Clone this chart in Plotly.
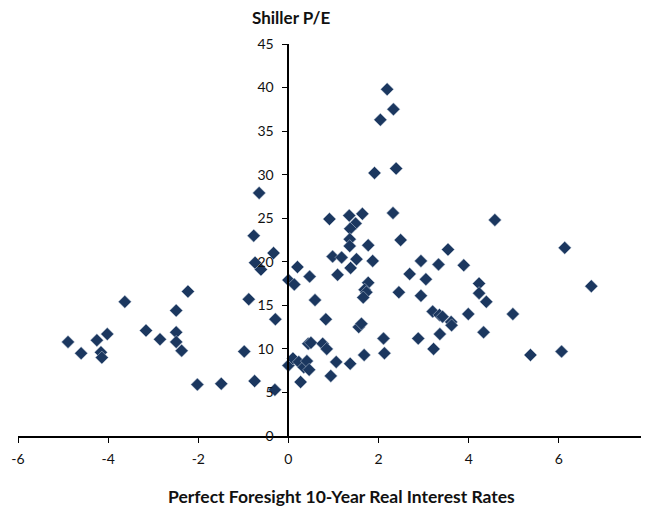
import plotly.graph_objects as go

# perfect foresight 10y real rate (x) vs Shiller P/E (y)
real_rate = [
    -4.89, -4.60, -4.25, -4.16, -4.14, -4.02, -3.63, -3.16, -2.85, -2.49,
    -2.49, -2.49, -2.37, -2.23, -2.02, -1.49, -0.98, -0.88, -0.75, -0.29,
    -0.30, -0.77, -0.65, -0.33, -0.74, -0.61,
    0.00, 0.13, 0.00, 0.10, 0.23, 0.34, 0.41, 0.46, 0.27, 0.20,
    0.47, 0.59, 0.44, 0.50, 0.76, 0.85, 0.83, 0.94, 1.06, 1.37,
    1.68, 1.56, 1.62,
    0.91, 0.98, 1.18, 1.09, 1.35, 1.49, 1.37, 1.36, 1.36, 1.38,
    1.51, 1.64, 1.77, 1.77, 1.69, 1.73, 1.66, 1.87, 1.91, 2.04,
    2.19, 2.33, 2.39, 2.32, 2.49, 2.45, 2.11, 2.13,
    2.69, 2.94, 2.94, 3.05, 2.88, 3.22, 3.20, 3.35, 3.42, 3.61,
    3.62, 3.36, 3.33, 3.54, 3.89, 3.99, 4.23, 4.23, 4.39, 4.33,
    4.58, 4.98, 5.37, 6.06, 6.13, 6.72,
]
shiller_pe = [
    10.8, 9.5, 11.0, 9.6, 9.0, 11.7, 15.4, 12.1, 11.1, 14.4,
    11.9, 10.8, 9.8, 16.6, 5.9, 6.0, 9.7, 15.7, 6.3, 13.4,
    5.3, 23.0, 27.9, 21.0, 19.9, 19.1,
    17.9, 17.4, 8.1, 8.9, 8.5, 7.9, 8.6, 7.6, 6.2, 19.4,
    18.3, 15.6, 10.6, 10.7, 10.6, 10.0, 13.4, 6.9, 8.5, 8.3,
    9.3, 12.5, 12.9,
    24.9, 20.6, 20.5, 18.5, 25.3, 24.4, 23.8, 22.6, 21.8, 19.3,
    20.3, 25.5, 21.9, 17.6, 16.8, 16.5, 15.9, 20.1, 30.2, 36.3,
    39.8, 37.5, 30.7, 25.6, 22.5, 16.5, 11.2, 9.5,
    18.6, 20.1, 16.1, 18.0, 11.2, 10.0, 14.3, 13.9, 13.7, 13.1,
    12.7, 11.7, 19.7, 21.4, 19.6, 14.0, 17.5, 16.4, 15.4, 11.9,
    24.8, 14.0, 9.3, 9.7, 21.6, 17.2,
]

x_ticks = [-6, -4, -2, 0, 2, 4, 6, 8]
x_labels = ["-6", "-4", "-2", "0", "2", "4", "6", "8"]  # plain hyphen like Excel
y_ticks = [0, 5, 10, 15, 20, 25, 30, 35, 40, 45]

fuente = "Lato"
navy = "#1B375F"

# page body has an 8px margin, so the figure is drawn a bit smaller
W, H = 641, 500
L, R, T, B = 10, 0, 36, 72

fig = go.Figure()

fig.add_trace(go.Scatter(
    x=real_rate,
    y=shiller_pe,
    mode="markers",
    marker=dict(symbol="diamond", size=10, color=navy,
                line=dict(color="#c9d3e0", width=0.5)),
    showlegend=False,
    cliponaxis=False,
))

fig.update_layout(
    width=W,
    height=H,
    margin=dict(l=L, r=R, t=T, b=B, autoexpand=False),
    plot_bgcolor="white",
    paper_bgcolor="white",
    font=dict(family=fuente, size=14, color="#111111"),
    xaxis=dict(
        range=[-6, 8],
        tickvals=x_ticks,
        ticktext=x_labels,
        showgrid=False,
        zeroline=False,
        showline=True,
        linecolor="black",
        linewidth=2,
        ticks="outside",
        ticklen=5,
        tickwidth=1,
        tickcolor="black",
        ticklabelstandoff=4,
        automargin=False,
    ),
    yaxis=dict(
        range=[0, 45],
        tickvals=y_ticks,
        showgrid=False,
        zeroline=False,
        showline=True,
        linecolor="black",
        linewidth=2,
        ticks="outside",
        ticklen=5,
        tickwidth=1,
        tickcolor="black",
        ticklabelstandoff=6,
        anchor="free",
        position=6 / 14,
        automargin=False,
    ),
    annotations=[
        dict(text="<b>Shiller P/E</b>", x=283, y=10, xref="paper", yref="paper",
             xanchor="center", yanchor="middle", showarrow=False,
             font=dict(size=17, family=fuente, color="#111111")),
        dict(text="<b>Perfect Foresight 10-Year Real Interest Rates</b>",
             x=333, y=489, xref="paper", yref="paper",
             xanchor="center", yanchor="middle", showarrow=False,
             font=dict(size=17.5, family=fuente, color="#111111")),
    ],
)

# annotation positions given in pixels -> convert to paper fractions
pw, ph = W - L - R, H - T - B
for a in fig.layout.annotations:
    a.x = (a.x - L) / pw
    a.y = (H - B - a.y) / ph

fig.write_html("out.html")
